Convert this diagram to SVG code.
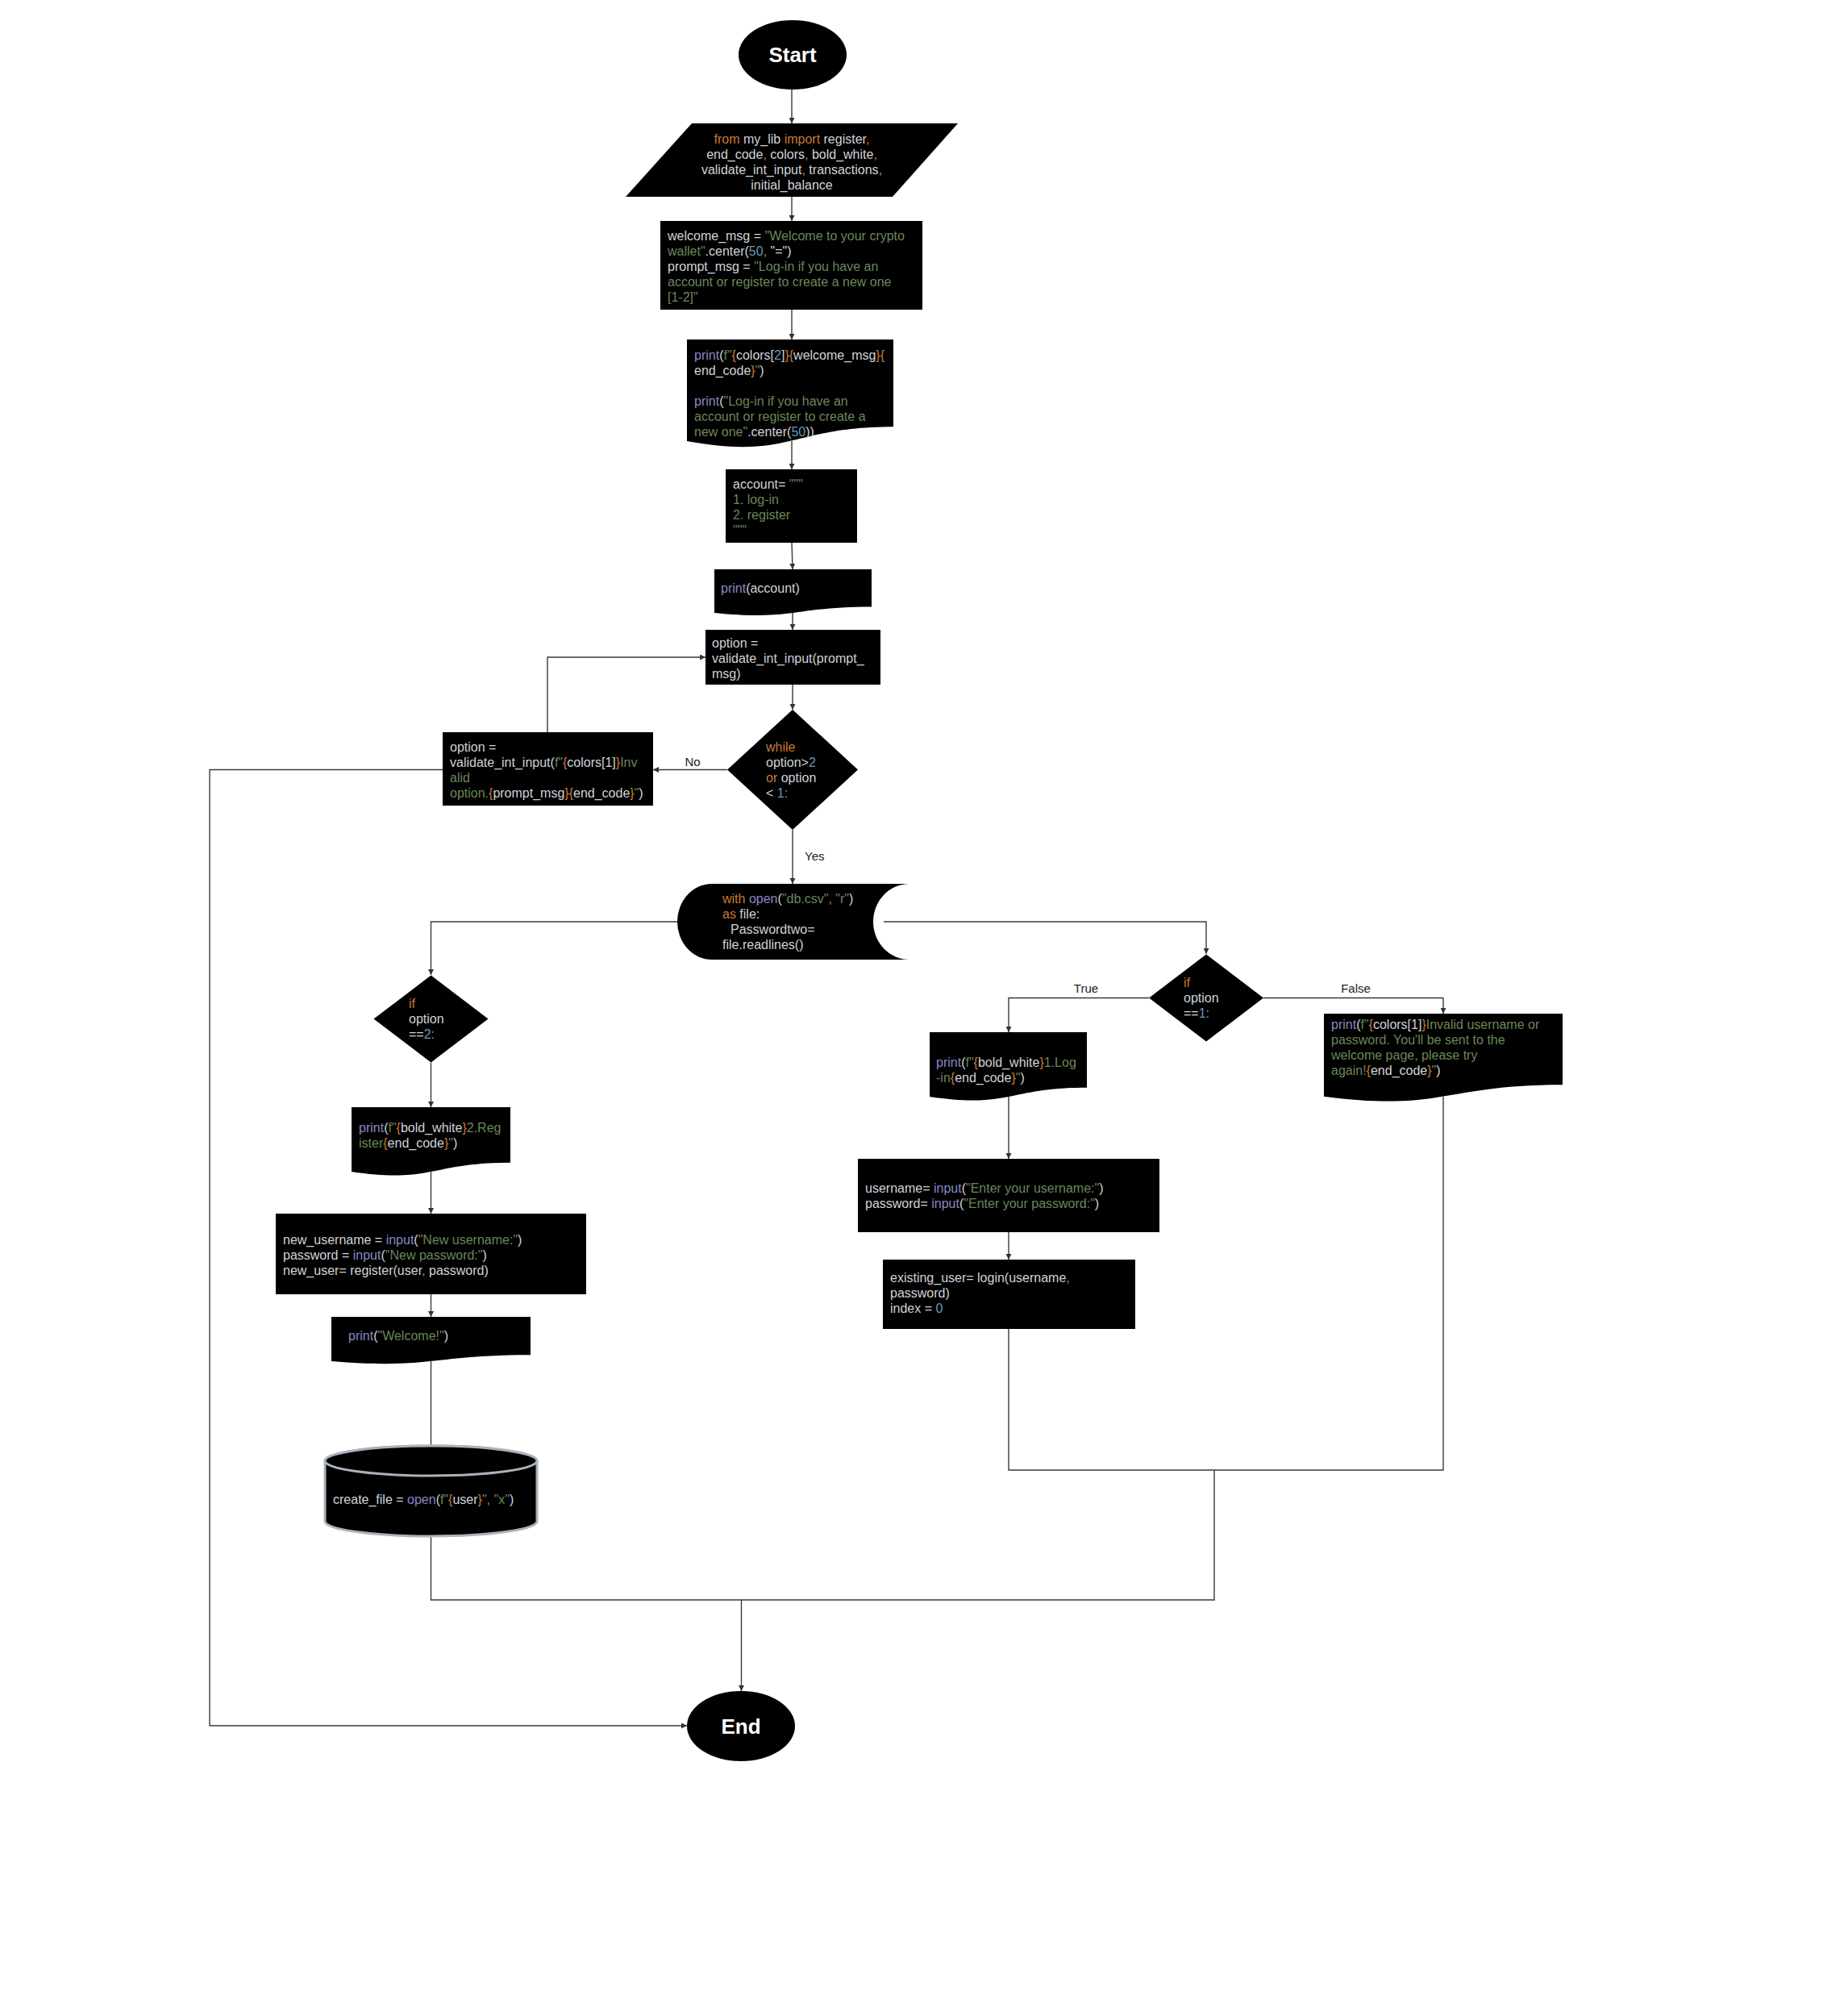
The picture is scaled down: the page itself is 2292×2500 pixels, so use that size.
<svg xmlns="http://www.w3.org/2000/svg" width="2292" height="2500" viewBox="0 0 2292 2500">
<style>
.bg{fill:#ffffff}
.shape{fill:#000000}
.cyl{fill:#000000;stroke:#a9b2bd;stroke-width:3}
.t{font-family:"Liberation Sans",Arial,sans-serif;font-size:16px;fill:#cfd3d8}
.o{fill:#cc7832}
.g{fill:#6a8759}
.p{fill:#8888c6}
.b{fill:#6897bb}
.term{font-family:"Liberation Sans",Arial,sans-serif;font-size:26px;font-weight:bold;fill:#ffffff;text-anchor:middle}
.lbl{font-family:"Liberation Sans",Arial,sans-serif;font-size:15px;fill:#222222}
.c{fill:none;stroke:#3a3a3a;stroke-width:1.4}
.ca{fill:none;stroke:#3a3a3a;stroke-width:1.4;marker-end:url(#arr)}
</style>
<defs>
<marker id="arr" markerUnits="userSpaceOnUse" markerWidth="8" markerHeight="7" refX="7" refY="3.5" orient="auto">
<path d="M0,0 L7,3.5 L0,7 Z" fill="#333333"/>
</marker>
</defs>
<rect class="bg" x="0" y="0" width="2292" height="2500"/>

<g id="connectors">
<path class="ca" d="M982,111 V153"/>
<path class="ca" d="M982,244 V274"/>
<path class="ca" d="M982,384 V421"/>
<path class="ca" d="M982,547 V582"/>
<path class="ca" d="M982,673 L983,706"/>
<path class="ca" d="M983,760 V781"/>
<path class="ca" d="M983,849 V880"/>
<path class="ca" d="M902,954.5 H810"/>
<path class="ca" d="M679,908 V815 H875"/>
<path class="ca" d="M549,954.5 H260 V2140 H852"/>
<path class="ca" d="M983,1029 V1096"/>
<path class="ca" d="M840,1143 H534.5 V1209"/>
<path class="ca" d="M1096,1143 H1496 V1183"/>
<path class="ca" d="M1425,1237.5 H1251 V1280"/>
<path class="ca" d="M1567,1237.5 H1790 V1257"/>
<path class="ca" d="M534.5,1317.5 V1373"/>
<path class="ca" d="M534.5,1453 V1505"/>
<path class="ca" d="M534.5,1605 V1633"/>
<path class="c" d="M534.5,1688 V1793"/>
<path class="c" d="M534.5,1905 V1984 H1506 V1823"/>
<path class="ca" d="M919.5,1984 V2097"/>
<path class="ca" d="M1251,1360 V1437"/>
<path class="ca" d="M1251,1528 V1562"/>
<path class="c" d="M1251,1648 V1823 H1790 V1360"/>
<text class="lbl" x="859" y="949.5" text-anchor="middle">No</text>
<text class="lbl" x="998" y="1067">Yes</text>
<text class="lbl" x="1347" y="1231" text-anchor="middle">True</text>
<text class="lbl" x="1681.5" y="1231" text-anchor="middle">False</text>
</g>

<g id="start">
<ellipse class="shape" cx="983" cy="68" rx="67" ry="43"/>
<text class="term" x="983" y="77">Start</text>
</g>

<g id="imports">
<polygon class="shape" points="858,153 1188,153 1107,244 776,244"/>
<text class="t" text-anchor="middle"><tspan x="982" y="177.5"><tspan class="o">from</tspan> my_lib <tspan class="o">import</tspan> register<tspan class="o">,</tspan></tspan><tspan x="982" y="196.5">end_code<tspan class="o">,</tspan> colors<tspan class="o">,</tspan> bold_white<tspan class="o">,</tspan></tspan><tspan x="982" y="215.5">validate_int_input<tspan class="o">,</tspan> transactions<tspan class="o">,</tspan></tspan><tspan x="982" y="234.5">initial_balance</tspan></text>
</g>

<g id="messages">
<rect class="shape" x="819" y="274" width="325" height="110"/>
<text class="t"><tspan x="828" y="298">welcome_msg = <tspan class="g">"Welcome to your crypto</tspan></tspan><tspan x="828" y="317"><tspan class="g">wallet"</tspan>.center(<tspan class="b">50</tspan><tspan class="o">,</tspan> "=")</tspan><tspan x="828" y="336">prompt_msg = <tspan class="g">"Log-in if you have an</tspan></tspan><tspan x="828" y="355" class="g">account or register to create a new one</tspan><tspan x="828" y="374" class="g">[1-2]"</tspan></text>
</g>

<g id="print_welcome">
<path class="shape" d="M852,421 H1108 V529.3 C980,529.3 980,570.5 852,547.1 Z"/>
<text class="t"><tspan x="861" y="445.5"><tspan class="p">print</tspan>(<tspan class="g">f"</tspan><tspan class="o">{</tspan>colors[<tspan class="b">2</tspan>]<tspan class="o">}{</tspan>welcome_msg<tspan class="o">}{</tspan></tspan><tspan x="861" y="464.5">end_code<tspan class="o">}</tspan><tspan class="g">"</tspan>)</tspan><tspan x="861" y="502.5"><tspan class="p">print</tspan>(<tspan class="g">"Log-in if you have an</tspan></tspan><tspan x="861" y="521.5" class="g">account or register to create a</tspan><tspan x="861" y="540.5"><tspan class="g">new one"</tspan>.center(<tspan class="b">50</tspan>))</tspan></text>
</g>

<g id="account">
<rect class="shape" x="900" y="582" width="163" height="91"/>
<text class="t"><tspan x="909" y="605.5">account= <tspan class="g">"""</tspan></tspan><tspan x="909" y="624.5" class="g">1. log-in</tspan><tspan x="909" y="643.5" class="g">2. register</tspan><tspan x="909" y="662.5" class="g">"""</tspan></text>
</g>

<g id="print_account">
<path class="shape" d="M886,706 H1081 V752.4 C983.5,752.4 983.5,770 886,760 Z"/>
<text class="t"><tspan x="894" y="735"><tspan class="p">print</tspan>(account)</tspan></text>
</g>

<g id="option_input">
<rect class="shape" x="875" y="781" width="217" height="68"/>
<text class="t"><tspan x="883" y="802.5">option =</tspan><tspan x="883" y="821.5">validate_int_input(prompt_</tspan><tspan x="883" y="840.5">msg)</tspan></text>
</g>

<g id="while_check">
<polygon class="shape" points="983,880 1064,954.5 983,1029 902,954.5"/>
<text class="t"><tspan x="950" y="931.5" class="o">while</tspan><tspan x="950" y="950.5">option&gt;<tspan class="b">2</tspan></tspan><tspan x="950" y="969.5"><tspan class="o">or</tspan> option</tspan><tspan x="950" y="988.5">&lt; <tspan class="b">1:</tspan></tspan></text>
</g>

<g id="invalid_option">
<rect class="shape" x="549" y="908" width="261" height="91"/>
<text class="t"><tspan x="558" y="931.5">option =</tspan><tspan x="558" y="950.5">validate_int_input(<tspan class="g">f"</tspan><tspan class="o">{</tspan>colors[1]<tspan class="o">}</tspan><tspan class="g">Inv</tspan></tspan><tspan x="558" y="969.5" class="g">alid</tspan><tspan x="558" y="988.5"><tspan class="g">option.</tspan><tspan class="o">{</tspan>prompt_msg<tspan class="o">}{</tspan>end_code<tspan class="o">}</tspan><tspan class="g">"</tspan>)</tspan></text>
</g>

<g id="open_db">
<path class="shape" d="M883,1096 H1128 A45,47 0 0 0 1128,1190 H883 A43,47 0 0 1 883,1096 Z"/>
<text class="t"><tspan x="896" y="1120"><tspan class="o">with</tspan> <tspan class="p">open</tspan>(<tspan class="g">"db.csv"</tspan><tspan class="o">,</tspan> <tspan class="g">"r"</tspan>)</tspan><tspan x="896" y="1139"><tspan class="o">as</tspan> file:</tspan><tspan x="906" y="1158">Passwordtwo=</tspan><tspan x="896" y="1177">file.readlines()</tspan></text>
</g>

<g id="if_option2">
<polygon class="shape" points="534.5,1209.5 605.5,1263.5 534.5,1317.5 463.5,1263.5"/>
<text class="t"><tspan x="507" y="1249.5" class="o">if</tspan><tspan x="507" y="1268.5">option</tspan><tspan x="507" y="1287.5">==<tspan class="b">2:</tspan></tspan></text>
</g>

<g id="print_register">
<path class="shape" d="M436,1373 H633 V1441.7 C534.5,1441.7 534.5,1467.9 436,1453 Z"/>
<text class="t"><tspan x="445" y="1403.5"><tspan class="p">print</tspan>(<tspan class="g">f"</tspan><tspan class="o">{</tspan>bold_white<tspan class="o">}</tspan><tspan class="g">2.Reg</tspan></tspan><tspan x="445" y="1422.5"><tspan class="g">ister</tspan><tspan class="o">{</tspan>end_code<tspan class="o">}</tspan><tspan class="g">"</tspan>)</tspan></text>
</g>

<g id="register_input">
<rect class="shape" x="342" y="1505" width="385" height="100"/>
<text class="t"><tspan x="351" y="1542.5">new_username = <tspan class="p">input</tspan>(<tspan class="g">"New username:"</tspan>)</tspan><tspan x="351" y="1561.5">password = <tspan class="p">input</tspan>(<tspan class="g">"New password:"</tspan>)</tspan><tspan x="351" y="1580.5">new_user= register(user<tspan class="o">,</tspan> password)</tspan></text>
</g>

<g id="print_welcome_user">
<path class="shape" d="M411,1633 H658 V1680.2 C534.5,1680.2 534.5,1698.2 411,1688 Z"/>
<text class="t"><tspan x="432" y="1661.5"><tspan class="p">print</tspan>(<tspan class="g">"Welcome!"</tspan>)</tspan></text>
</g>

<g id="create_file">
<path class="cyl" d="M403,1811.5 V1886.5 A131.5,18.5 0 0 0 666,1886.5 V1811.5 A131.5,18.5 0 0 0 403,1811.5 Z"/>
<ellipse class="cyl" cx="534.5" cy="1811.5" rx="131.5" ry="18.5"/>
<text class="t"><tspan x="413" y="1864.5">create_file = <tspan class="p">open</tspan>(<tspan class="g">f"</tspan><tspan class="o">{</tspan>user<tspan class="o">}</tspan><tspan class="g">"</tspan><tspan class="o">,</tspan> <tspan class="g">"x"</tspan>)</tspan></text>
</g>

<g id="if_option1">
<polygon class="shape" points="1496,1183.5 1567,1237.5 1496,1291.5 1425,1237.5"/>
<text class="t"><tspan x="1468" y="1223.5" class="o">if</tspan><tspan x="1468" y="1242.5">option</tspan><tspan x="1468" y="1261.5">==<tspan class="b">1:</tspan></tspan></text>
</g>

<g id="print_login">
<path class="shape" d="M1153,1280 H1348 V1348.7 C1250.5,1348.7 1250.5,1374.8 1153,1360 Z"/>
<text class="t"><tspan x="1161" y="1322.5"><tspan class="p">print</tspan>(<tspan class="g">f"</tspan><tspan class="o">{</tspan>bold_white<tspan class="o">}</tspan><tspan class="g">1.Log</tspan></tspan><tspan x="1161" y="1341.5"><tspan class="g">-in</tspan><tspan class="o">{</tspan>end_code<tspan class="o">}</tspan><tspan class="g">"</tspan>)</tspan></text>
</g>

<g id="print_invalid_login">
<path class="shape" d="M1642,1257 H1938 V1345.2 C1790,1345.2 1790,1378.8 1642,1359.7 Z"/>
<text class="t"><tspan x="1651" y="1275.5"><tspan class="p">print</tspan>(<tspan class="g">f"</tspan><tspan class="o">{</tspan>colors[1]<tspan class="o">}</tspan><tspan class="g">Invalid username or</tspan></tspan><tspan x="1651" y="1294.5" class="g">password. You'll be sent to the</tspan><tspan x="1651" y="1313.5" class="g">welcome page, please try</tspan><tspan x="1651" y="1332.5"><tspan class="g">again!</tspan><tspan class="o">{</tspan>end_code<tspan class="o">}</tspan><tspan class="g">"</tspan>)</tspan></text>
</g>

<g id="login_input">
<rect class="shape" x="1064" y="1437" width="374" height="91"/>
<text class="t"><tspan x="1073" y="1478.5">username= <tspan class="p">input</tspan>(<tspan class="g">"Enter your username:"</tspan>)</tspan><tspan x="1073" y="1497.5">password= <tspan class="p">input</tspan>(<tspan class="g">"Enter your password:"</tspan>)</tspan></text>
</g>

<g id="login_call">
<rect class="shape" x="1095" y="1562" width="313" height="86"/>
<text class="t"><tspan x="1104" y="1589.5">existing_user= login(username<tspan class="o">,</tspan></tspan><tspan x="1104" y="1608.5">password)</tspan><tspan x="1104" y="1627.5">index = <tspan class="b">0</tspan></tspan></text>
</g>

<g id="end">
<ellipse class="shape" cx="919" cy="2140.5" rx="67" ry="43.5"/>
<text class="term" x="919" y="2150">End</text>
</g>
</svg>
